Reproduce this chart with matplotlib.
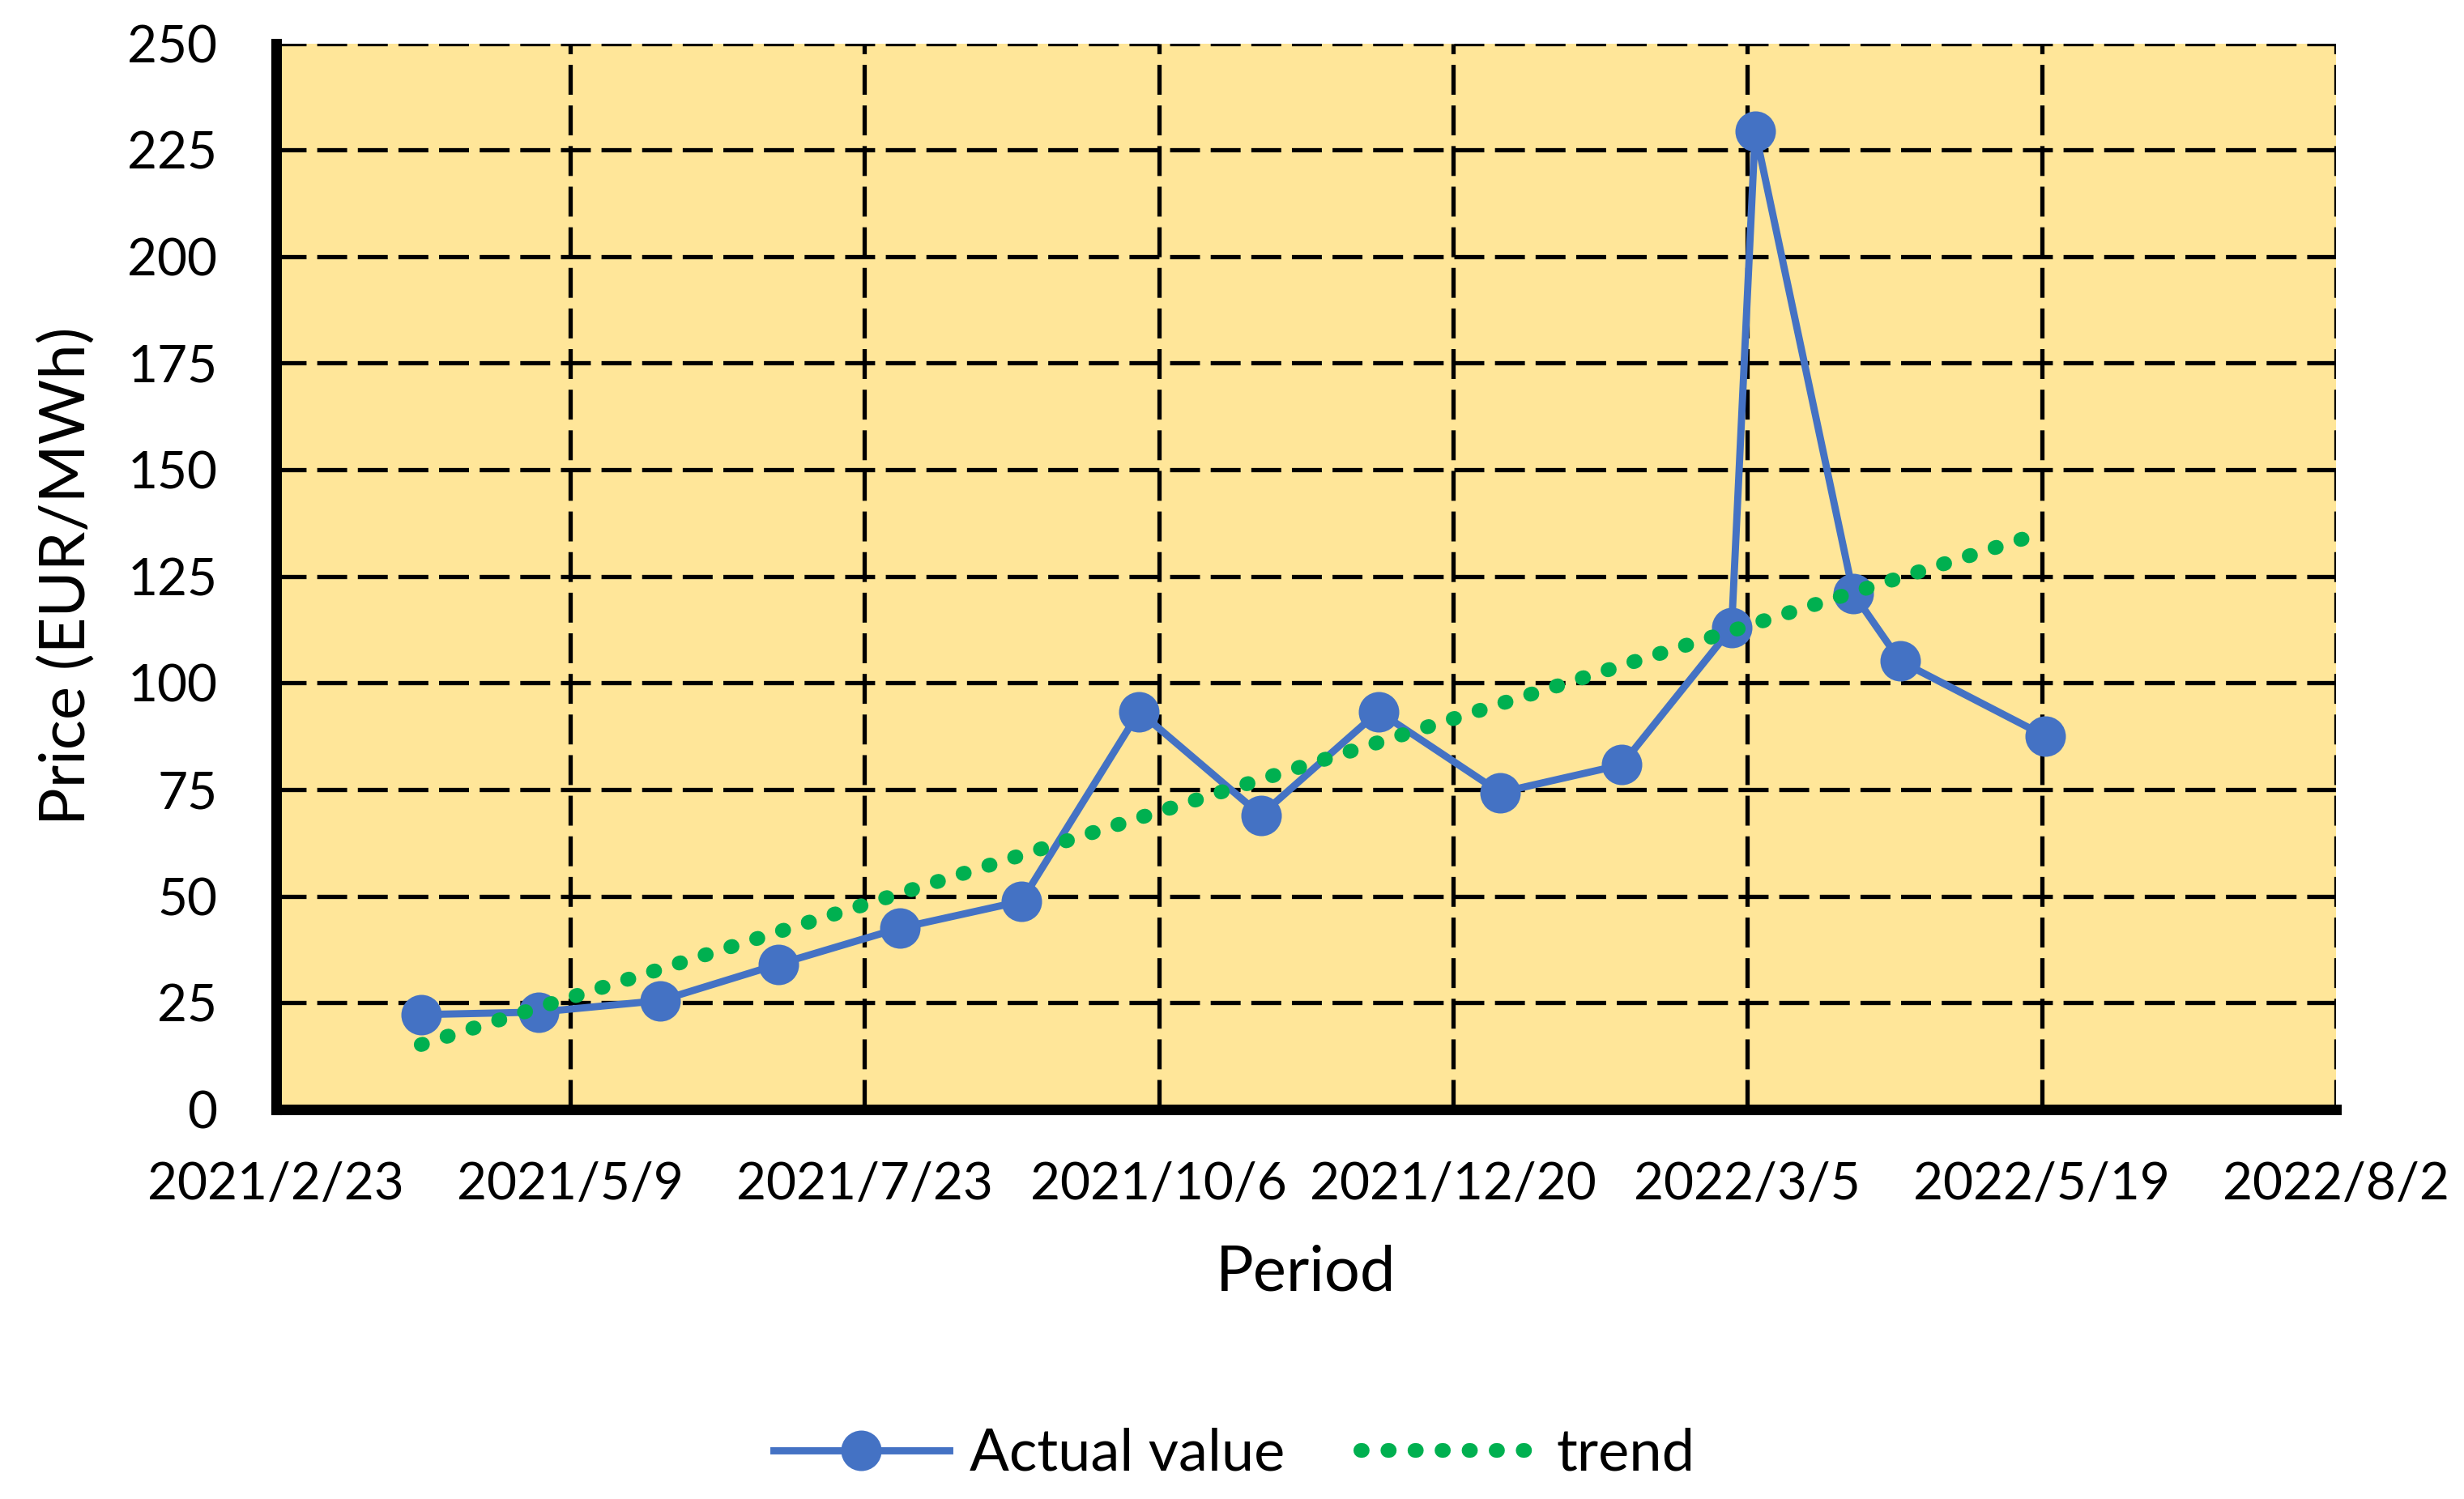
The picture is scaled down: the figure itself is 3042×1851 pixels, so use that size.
import numpy as np
import pandas as pd
import matplotlib
matplotlib.use("Agg")
import matplotlib.pyplot as plt
import matplotlib.dates as mdates

plt.rcParams['font.family'] = ['Lato', 'DejaVu Sans']

# data
dates = ['2021-04-01', '2021-05-01', '2021-06-01', '2021-07-01', '2021-08-01',
         '2021-09-01', '2021-10-01', '2021-11-01', '2021-12-01', '2022-01-01',
         '2022-02-01', '2022-03-01', '2022-03-07', '2022-04-01', '2022-04-13',
         '2022-05-20']
prices = [22.2, 22.8, 25.5, 34.0, 42.5, 48.8, 93.3, 69.0, 93.3, 74.3,
          80.8, 112.9, 229.4, 121.0, 105.1, 87.5]
x_start = '2021-02-23'
x_end = '2022-08-02'
y_ticks = [0, 25, 50, 75, 100, 125, 150, 175, 200, 225, 250]

blue = '#4472C4'
green = '#00B050'
bg = '#FFE699'

t = pd.to_datetime(dates)
xnum = mdates.date2num(t)

# linear trendline as in Excel
coef = np.polyfit(xnum, prices, 1)
trend_x = np.array([xnum[0], xnum[-1]])
trend_y = np.polyval(coef, trend_x)

fig = plt.figure(figsize=(15.21, 9.255), dpi=200)
ax = fig.add_axes([0.112, 0.26, 0.836, 0.711])
ax.set_facecolor(bg)

ax.plot(xnum, prices, color=blue, lw=3.2, marker='o', ms=17,
        label='Actual value', zorder=3)
ax.plot(trend_x, trend_y, color=green, lw=6.5, linestyle=(0, (0.1, 1.75)),
        dash_capstyle='round', label='trend', zorder=4)

ticks = mdates.date2num(pd.date_range(x_start, x_end, freq='75D'))
ax.set_xlim(ticks[0], ticks[-1])
ax.set_xticks(ticks)
ax.set_xticklabels([f"{d.year}/{d.month}/{d.day}" for d in mdates.num2date(ticks)])
ax.set_ylim(0, 250)
ax.set_yticks(y_ticks)

ax.grid(True, color='black', lw=1.9, linestyle=(0, (7, 2.5)), zorder=1)
ax.set_axisbelow(True)

for s in ['top', 'right']:
    ax.spines[s].set_visible(False)
for s in ['left', 'bottom']:
    ax.spines[s].set_linewidth(4.7)
    ax.spines[s].set_capstyle('projecting')
    ax.spines[s].set_zorder(5)

ax.tick_params(axis='both', length=0, labelsize=23)
ax.tick_params(axis='x', pad=23)
ax.tick_params(axis='y', pad=26)

ax.set_xlabel('Period', fontsize=28, labelpad=16)
ax.set_ylabel('Price (EUR/MWh)', fontsize=28, labelpad=14)

fig.legend(loc='center', bbox_to_anchor=(0.501, 0.03), ncol=2, frameon=False,
           fontsize=26, handlelength=3, handletextpad=0.35, columnspacing=1.3)

fig.savefig('out.png', dpi=200)
